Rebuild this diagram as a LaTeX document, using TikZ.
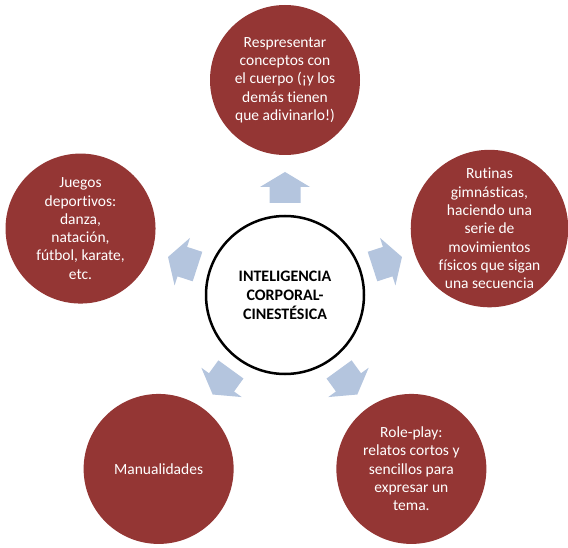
\documentclass[tikz,border=0pt]{standalone}
\usepackage{fontspec}
\setmainfont{Carlito}[Ligatures=NoCommon]
\usepackage{tikz}
\usetikzlibrary{positioning, calc}
\definecolor{RamaRed}{RGB}{148, 54, 52}
\definecolor{FlechaBlue}{RGB}{180, 197, 222}

\begin{document}
\begin{tikzpicture}[x=1pt, y=1pt,
    idea/.style={circle, draw=black, line width=2.5pt, minimum size=158pt, inner sep=0pt, align=center,
        font=\fontsize{16}{19}\selectfont\bfseries},
    rama/.style={circle, fill=RamaRed, minimum size=150pt, inner sep=0pt, align=center, text=white,
        font=\fontsize{15.5}{18.3}\selectfont},
    flecha/.style={fill=FlechaBlue}]
    \useasboundingbox (0,0) rectangle (568,547);

    % centro
    \node[idea] (centro) at (285,252) {INTELIGENCIA\\CORPORAL-\\CINESTÉSICA};

    % ramas
    \node[rama] (representar) at ($(centro)+(90:215)$) {Respresentar\\conceptos con\\el cuerpo (¡y los\\demás tienen\\que adivinarlo!)};
    \node[rama] (rutinas) at ($(centro)+(18:215)$) {Rutinas\\gimnásticas,\\haciendo una\\serie de\\movimientos\\físicos que sigan\\una secuencia};
    \node[rama] (roleplay) at ($(centro)+(-54:215)$) {Role-play:\\relatos cortos y\\sencillos para\\expresar un\\tema.};
    \node[rama] (manualidades) at ($(centro)+(-126:215)$) {Manualidades};
    \node[rama] (juegos) at ($(centro)+(162:215)$) {Juegos\\deportivos:\\danza,\\natación,\\fútbol, karate,\\etc.};

    % flechas
    \foreach \a in {90, 18, -54, -126, 162}
        \fill[flecha, shift={(centro)}, rotate=\a-90] (-15.5,92) -- (15.5,92) -- (15.5,108) -- (25,108)
            -- (0,123) -- (-25,108) -- (-15.5,108) -- cycle;
\end{tikzpicture}
\end{document}
